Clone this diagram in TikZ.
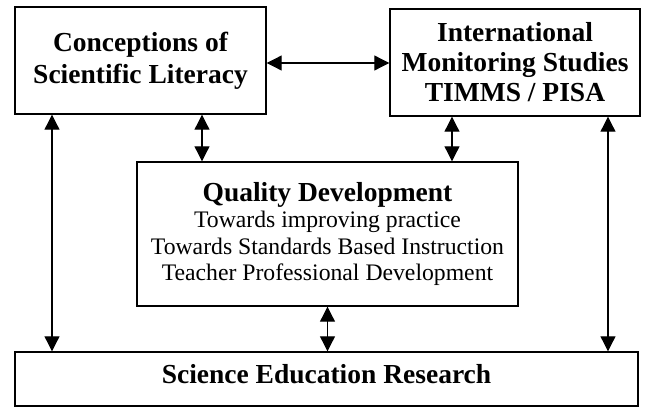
\documentclass[tikz,border=0pt]{standalone}
\usepackage{fontspec}
\setmainfont{Liberation Serif}
\usetikzlibrary{arrows.meta}
\tikzset{
        box/.style={draw=black, line width=0.5mm, align=center, inner sep=0pt},
        bigbold/.style={font=\fontsize{27.5}{30}\selectfont\bfseries},
        plain/.style={font=\fontsize{23.7}{26.5}\selectfont},
        link/.style={{Triangle[length=15pt,width=15pt]}-{Triangle[length=15pt,width=15pt]}, line width=0.4mm}
          }
\begin{document}
\begin{tikzpicture}[x=1pt, y=-1pt]
        \useasboundingbox (0,0) rectangle (646,407);
        % the four boxes
        \node[box, font=\fontsize{27.5}{32}\selectfont\bfseries, minimum width=251pt, minimum height=107pt] (cls) at (140.5,60.5)
          {Conceptions of\\Scientific Literacy};
        \node[box, bigbold, minimum width=250pt, minimum height=107pt] (ims) at (515,62.5)
          {International\\Monitoring Studies\\TIMMS / PISA};
        \node[box, plain, minimum width=381pt, minimum height=144pt] (qd) at (327.5,234)
          {{\fontsize{27.5}{28}\selectfont\bfseries Quality Development}\\Towards improving practice\\
           Towards Standards Based Instruction\\Teacher Professional Development};
        \node[box, bigbold, minimum width=623pt, minimum height=54pt, text depth=11pt] (ser) at (326.5,379)
          {Science Education Research};
        % links
        \draw[link] ([yshift=-2.5pt]cls.east) -- ([yshift=-2.5pt]cls.east -| ims.west);
        \draw[link] ([xshift=-88.5pt]cls.south) -- ([xshift=-88.5pt]cls.south |- ser.north);
        \draw[link] ([xshift=61.5pt]cls.south) -- ([xshift=61.5pt]cls.south |- qd.north);
        \draw[link] ([xshift=-63pt]ims.south) -- ([xshift=-63pt]ims.south |- qd.north);
        \draw[link] ([xshift=93pt]ims.south) -- ([xshift=93pt]ims.south |- ser.north);
        \draw[link] (qd.south) -- (qd.south |- ser.north);
      \end{tikzpicture}
\end{document}
